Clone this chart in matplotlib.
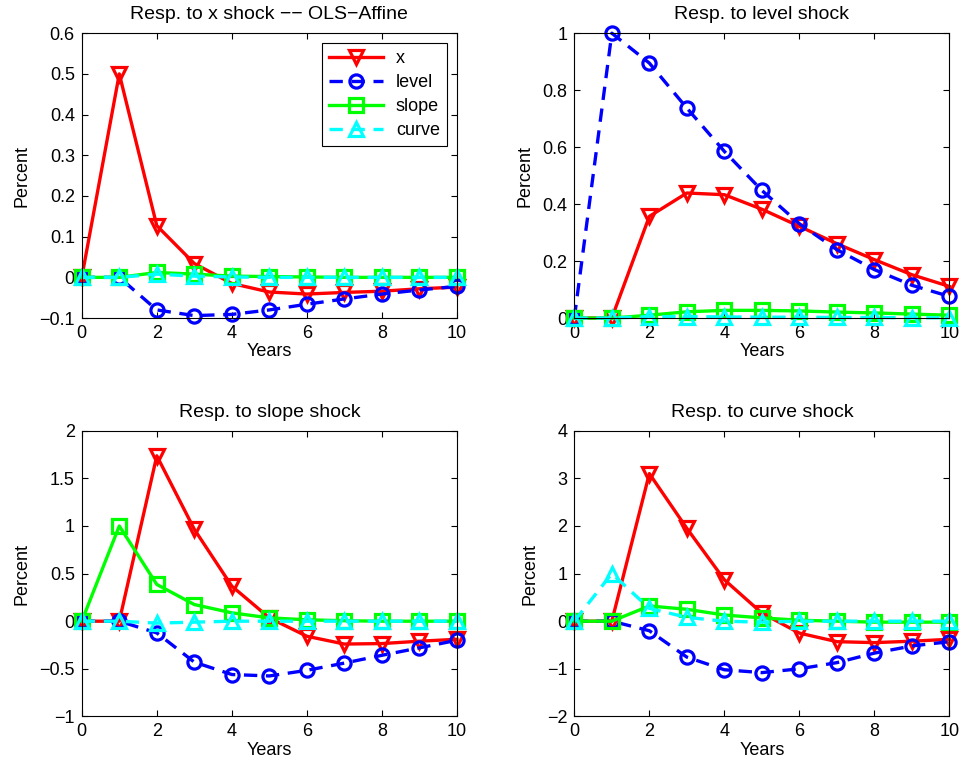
import matplotlib
matplotlib.use("Agg")
import matplotlib.pyplot as plt
import numpy as np

plt.rcParams['font.family'] = ['Liberation Sans', 'DejaVu Sans']
plt.rcParams['font.size'] = 13

years = np.arange(11)
series_names = ['x', 'level', 'slope', 'curve']

# responses to x shock
x_shock_x = [0, 0.5, 0.127, 0.034, -0.015, -0.036, -0.041, -0.037, -0.034, -0.028, -0.024]
x_shock_level = [0, 0, -0.08, -0.094, -0.091, -0.08, -0.066, -0.053, -0.041, -0.031, -0.022]
x_shock_slope = [0, 0, 0.012, 0.008, 0.003, 0.002, 0.001, 0, 0, 0, 0]
x_shock_curve = [0, 0, 0.008, 0.003, 0.001, 0, 0, 0, 0, 0, 0]

# responses to level shock
level_shock_x = [0, 0, 0.357, 0.439, 0.433, 0.382, 0.322, 0.261, 0.205, 0.152, 0.111]
level_shock_level = [0, 1, 0.895, 0.737, 0.585, 0.448, 0.331, 0.24, 0.17, 0.115, 0.076]
level_shock_slope = [0, 0, 0.01, 0.022, 0.027, 0.027, 0.025, 0.021, 0.018, 0.014, 0.01]
level_shock_curve = [0, 0, 0.005, 0.005, 0.004, 0.003, 0.003, 0.002, 0.002, 0.001, 0.001]

# responses to slope shock
slope_shock_x = [0, 0, 1.737, 0.965, 0.368, 0.035, -0.158, -0.24, -0.235, -0.21, -0.19]
slope_shock_level = [0, 0, -0.123, -0.43, -0.56, -0.575, -0.516, -0.44, -0.358, -0.28, -0.2]
slope_shock_slope = [0, 1, 0.386, 0.175, 0.088, 0.035, 0.015, 0.005, 0, 0, 0]
slope_shock_curve = [0, 0, -0.02, -0.01, 0, 0, 0, 0, 0, 0, 0]

# responses to curve shock
curve_shock_x = [0, 0, 3.1, 1.95, 0.87, 0.17, -0.25, -0.43, -0.45, -0.42, -0.38]
curve_shock_level = [0, 0, -0.2, -0.755, -1.02, -1.08, -1.0, -0.87, -0.67, -0.52, -0.43]
curve_shock_slope = [0, 0, 0.32, 0.25, 0.13, 0.07, 0.02, 0, -0.02, -0.02, -0.02]
curve_shock_curve = [0, 1, 0.27, 0.08, 0.0, -0.02, 0, 0, 0, 0, 0]

titles = ['Resp. to x shock \u2212\u2212 OLS\u2212Affine', 'Resp. to level shock',
          'Resp. to slope shock', 'Resp. to curve shock']
panels = [
    [x_shock_x, x_shock_level, x_shock_slope, x_shock_curve],
    [level_shock_x, level_shock_level, level_shock_slope, level_shock_curve],
    [slope_shock_x, slope_shock_level, slope_shock_slope, slope_shock_curve],
    [curve_shock_x, curve_shock_level, curve_shock_slope, curve_shock_curve],
]
ylims = [(-0.1, 0.6), (0, 1), (-1, 2), (-2, 4)]
yticks = [np.arange(-0.1, 0.61, 0.1), np.arange(0, 1.01, 0.2),
          np.arange(-1, 2.01, 0.5), np.arange(-2, 4.01, 1)]
ytick_labels = [['\u22120.1', '0', '0.1', '0.2', '0.3', '0.4', '0.5', '0.6'],
                ['0', '0.2', '0.4', '0.6', '0.8', '1'],
                ['\u22121', '\u22120.5', '0', '0.5', '1', '1.5', '2'],
                ['\u22122', '\u22121', '0', '1', '2', '3', '4']]

styles = [
    dict(color='red', linestyle='-', marker='v'),
    dict(color='blue', linestyle=(0, (4, 2.6)), marker='o'),
    dict(color='#00ff00', linestyle='-', marker='s'),
    dict(color='cyan', linestyle=(0, (4, 2.6)), marker='^'),
]

fig = plt.figure(figsize=(9.62, 7.72), dpi=100)
positions = [[0.085, 0.588, 0.390, 0.369], [0.597, 0.588, 0.390, 0.369],
             [0.085, 0.072, 0.390, 0.370], [0.597, 0.072, 0.390, 0.370]]

for k in range(4):
    ax = fig.add_axes(positions[k])
    for name, vals, st in zip(series_names, panels[k], styles):
        ax.plot(years, vals, label=name, linewidth=2.4, markersize=9.5,
                markeredgewidth=2.3, markerfacecolor='none', clip_on=False, **st)
    ax.set_xlim(0, 10)
    ax.set_ylim(*ylims[k])
    ax.set_xticks(np.arange(0, 11, 2))
    ax.set_yticks(yticks[k])
    ax.set_yticklabels(ytick_labels[k])
    ax.tick_params(direction='in', top=True, right=True, length=4, pad=5)
    ax.set_title(titles[k], fontsize=14, pad=10)
    ax.set_xlabel('Years', labelpad=1)
    ax.set_ylabel('Percent', labelpad=6)
    if k == 0:
        leg = ax.legend(loc='upper right', handlelength=3, labelspacing=0.38,
                        fancybox=False, edgecolor='black', framealpha=1,
                        borderaxespad=0.55, borderpad=0.4, handletextpad=0.7)
        leg.get_frame().set_linewidth(0.8)

fig.savefig('out.png', dpi=100)
